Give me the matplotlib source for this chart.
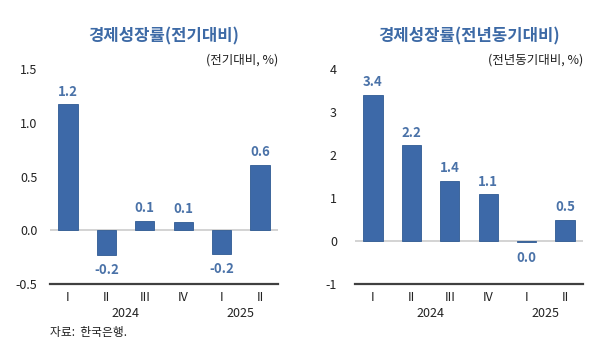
import numpy as np
import matplotlib.pyplot as plt
from matplotlib import transforms

plt.rcParams['font.family'] = ['Noto Sans CJK KR', 'DejaVu Sans']

quarters = ["I", "II", "III", "IV", "I", "II"]
years = ["2024", "2025"]
year_pos = [1.5, 4.5]

qoq = [1.17, -0.23, 0.09, 0.08, -0.22, 0.61]
qoq_labels = ["1.2", "-0.2", "0.1", "0.1", "-0.2", "0.6"]
yoy = [3.40, 2.23, 1.40, 1.09, -0.03, 0.49]
yoy_labels = ["3.4", "2.2", "1.4", "1.1", "0.0", "0.5"]

bar_color = "#3d69a8"
text_blue = "#4a72a8"

fig = plt.figure(figsize=(6, 3.52), dpi=100)


def draw_panel(rect, vals, labels, ylim, yticks, ytlabels, title, unit, pad):
    ax = fig.add_axes(rect)
    x = np.arange(len(vals))
    ax.bar(x, vals, width=0.5, color=bar_color, edgecolor="#2f5a93", linewidth=0.6, zorder=3)
    ax.axhline(0, color="#cccccc", lw=1.2, zorder=2)
    ax.set_xlim(-0.47, 5.47)
    ax.set_ylim(*ylim)
    ax.set_yticks(yticks)
    ax.set_yticklabels(ytlabels)
    ax.set_xticks(x)
    ax.set_xticklabels(quarters)
    ax.tick_params(length=0, labelsize=9, colors="#222222")
    ax.tick_params(axis="y", pad=pad)
    ax.tick_params(axis="x", pad=5)
    for s in ["top", "right", "left"]:
        ax.spines[s].set_visible(False)
    ax.spines["bottom"].set_color("#404040")
    ax.spines["bottom"].set_linewidth(1.6)
    for xi, v, lab in zip(x, vals, labels):
        if v >= 0:
            ax.annotate(lab, (xi, v), xytext=(0, 4), textcoords="offset points",
                        ha="center", va="bottom", fontsize=9.5, color=text_blue, fontweight="bold")
        else:
            ax.annotate(lab, (xi, v), xytext=(0, -6), textcoords="offset points",
                        ha="center", va="top", fontsize=9.5, color=text_blue, fontweight="bold")
    trans = transforms.blended_transform_factory(ax.transData, ax.transAxes)
    for yp, yr in zip(year_pos, years):
        ax.text(yp, -0.135, yr, transform=trans, ha="center", va="center",
                fontsize=9, color="#222222")
    ax.text(1.0, 1.042, unit, transform=ax.transAxes, ha="right", va="center",
            fontsize=9, color="#222222")
    fig.text(rect[0] + rect[2] / 2, 0.895, title, ha="center", va="center",
             fontsize=12, fontweight="bold", color="#3d6aa6")
    return ax


draw_panel([0.0833, 0.193, 0.38, 0.611], qoq, qoq_labels, (-0.5, 1.5),
           [-0.5, 0.0, 0.5, 1.0, 1.5], ["-0.5", "0.0", "0.5", "1.0", "1.5"],
           "경제성장률(전기대비)", "(전기대비, %)", 9)
draw_panel([0.5917, 0.193, 0.38, 0.611], yoy, yoy_labels, (-1, 4),
           [-1, 0, 1, 2, 3, 4], ["-1", "0", "1", "2", "3", "4"],
           "경제성장률(전년동기대비)", "(전년동기대비, %)", 13)

fig.text(0.083, 0.054, "자료:  한국은행.", ha="left", va="center", fontsize=8.5, color="#222222")

fig.savefig("out.png", dpi=100, facecolor="white")
